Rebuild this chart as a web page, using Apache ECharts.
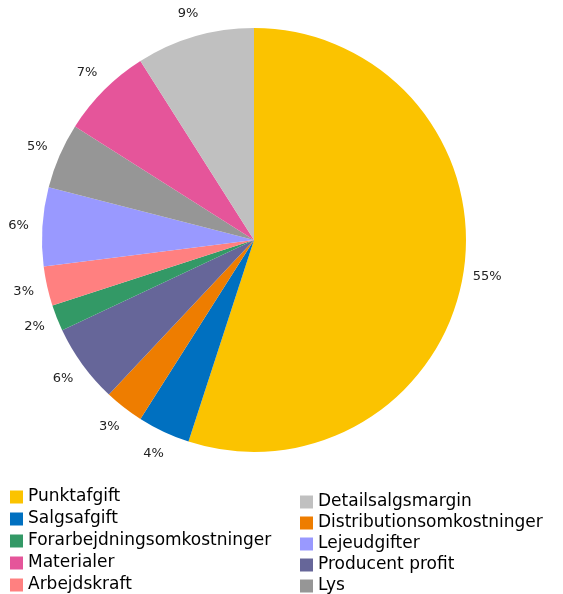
<!DOCTYPE html>
<html><head><meta charset="utf-8">
<script src="https://cdn.jsdelivr.net/npm/echarts@6/dist/echarts.min.js"></script>
<style>html,body{margin:0;padding:0;background:#fff}#c{width:563px;height:594px}</style>
</head><body><div id="c"></div>
<script>
const categories = ["Punktafgift","Salgsafgift","Distributionsomkostninger","Producent profit","Forarbejdningsomkostninger","Arbejdskraft","Lejeudgifter","Lys","Materialer","Detailsalgsmargin"];
const values = [55,4,3,6,2,3,6,5,7,9];
const colors = ["#FBC300","#0070C0","#EE7D00","#666699","#339966","#FF8080","#9999FF","#969696","#E5559A","#C0C0C0"];
const legendLeft = ["Punktafgift","Salgsafgift","Forarbejdningsomkostninger","Materialer","Arbejdskraft"];
const legendRight = ["Detailsalgsmargin","Distributionsomkostninger","Lejeudgifter","Producent profit","Lys"];

const chart = echarts.init(document.getElementById('c'));
const legendCommon = {
  orient:'vertical', itemWidth:13, itemHeight:13, itemGap:4, icon:'rect', padding:0, height:110,
  textStyle:{fontFamily:'DejaVu Sans', fontSize:17, lineHeight:18, color:'#000', padding:[0,0,0,0]},
  selectedMode:false
};
const pieData = categories.map((n,i)=>({name:n, value:values[i]}));
chart.setOption({
  animation:false,
  color: colors,
  legend:[
    Object.assign({}, legendCommon, {data:legendLeft, left:10, top:488}),
    Object.assign({}, legendCommon, {data:legendRight, left:300, top:493, itemGap:3})
  ],
  series:[{
    type:'pie',
    center:[254,240],
    radius:[0,212],
    startAngle:90,
    clockwise:true,
    itemStyle:{borderWidth:0},
    label:{show:false},
    labelLine:{show:false},
    data: pieData
  },{
    type:'pie',
    silent:true,
    center:[254,240],
    radius:[200,266],
    startAngle:90,
    clockwise:true,
    itemStyle:{color:'rgba(0,0,0,0)', borderWidth:0},
    label:{show:true, position:'inside', formatter:'{c}%', fontFamily:'DejaVu Sans', fontSize:13, color:'#222'},
    labelLine:{show:false},
    emphasis:{disabled:true},
    data: pieData
  }]
});
</script></body></html>
